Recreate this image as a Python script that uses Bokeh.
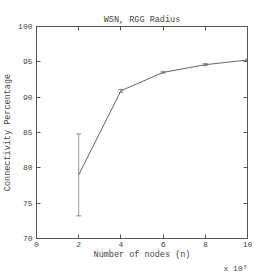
from bokeh.plotting import figure
from bokeh.models import LinearAxis, Range1d, Whisker, ColumnDataSource, Title, FixedTicker
from bokeh.embed import file_html
from bokeh.resources import INLINE

nodes = [2, 4, 6, 8, 10]
connectivity = [79.0, 90.9, 93.5, 94.6, 95.25]
err_low = [73.2, 90.7, 93.4, 94.45, 95.1]
err_high = [84.8, 91.1, 93.6, 94.75, 95.4]
x_ticks = [0, 2, 4, 6, 8, 10]
y_ticks = [70, 75, 80, 85, 90, 95, 100]

FONT = "Liberation Mono"
AX = "#555555"
TXT = "#444444"

p = figure(frame_width=211, frame_height=212, output_backend="svg", toolbar_location=None,
           x_range=Range1d(0, 10), y_range=Range1d(70, 100),
           min_border_left=31, min_border_top=0, min_border_right=12, min_border_bottom=0,
           x_axis_label="Number of nodes (n)", y_axis_label="Connectivity Percentage")
p.title.visible = False
p.grid.visible = False
p.outline_line_color = AX
p.background_fill_color = "white"

src = ColumnDataSource(dict(x=nodes, y=connectivity, lo=err_low, hi=err_high))
p.line("x", "y", source=src, line_color="#666666", line_width=1)
w = Whisker(base="x", lower="lo", upper="hi", source=src, line_color="#999999", line_width=1)
w.upper_head.size = 5
w.lower_head.size = 5
w.upper_head.line_color = "#888888"
w.lower_head.line_color = "#888888"
p.add_layout(w)

for ax in p.xaxis + p.yaxis:
    ax.major_tick_in = 4
    ax.major_tick_out = 0
    ax.minor_tick_in = 0
    ax.minor_tick_out = 0
    ax.axis_line_color = AX
    ax.major_tick_line_color = AX
    ax.major_label_text_font = FONT
    ax.major_label_text_font_size = "8px"
    ax.major_label_text_color = TXT
    ax.axis_label_text_font = FONT
    ax.axis_label_text_font_size = "8.5px"
    ax.axis_label_text_font_style = "normal"
    ax.axis_label_text_color = TXT
    ax.major_label_standoff = 3
    ax.axis_label_standoff = 0
p.yaxis.major_label_standoff = 4
p.yaxis.axis_label_standoff = 2
p.xaxis.ticker = FixedTicker(ticks=x_ticks)
p.yaxis.ticker = FixedTicker(ticks=y_ticks)

for loc in ("right", "above"):
    a = LinearAxis(ticker=FixedTicker(ticks=x_ticks if loc == "above" else y_ticks))
    a.major_tick_in = 4
    a.major_tick_out = 0
    a.minor_tick_in = 0
    a.minor_tick_out = 0
    a.axis_line_color = AX
    a.major_tick_line_color = AX
    a.major_label_text_font_size = "0px"
    a.major_label_standoff = 0
    p.add_layout(a, loc)

main_title = Title(text="WSN, RGG Radius", align="center", text_font=FONT, text_font_size="8.5px",
                   text_font_style="normal", text_color=TXT, standoff=3)
p.add_layout(main_title, "above")
p.add_layout(Title(text=" ", text_font_size="8px", standoff=0), "above")

mult = Title(text="x 10⁵", align="right", text_font=FONT, text_font_size="8px",
             text_font_style="normal", text_color=TXT, standoff=-2)
p.add_layout(mult, "below")

open("out.html", "w").write(file_html(p, INLINE))
